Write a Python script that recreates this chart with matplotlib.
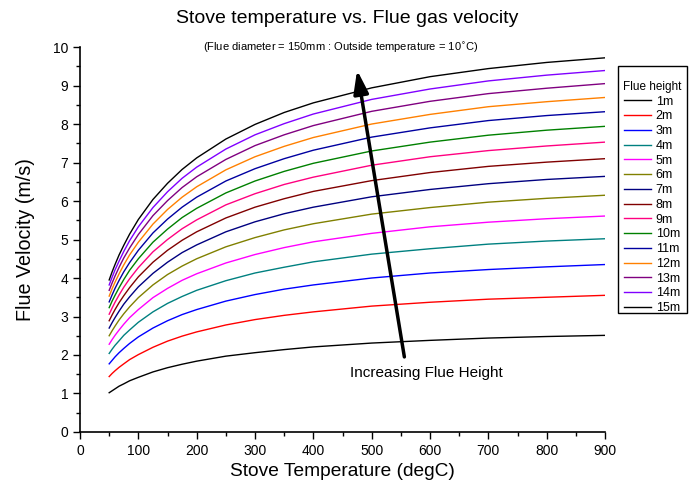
import numpy as np
import matplotlib
matplotlib.use("Agg")
import matplotlib.pyplot as plt
from matplotlib.ticker import MultipleLocator
from matplotlib.patches import Rectangle

plt.rcParams['font.family'] = ['Liberation Sans', 'DejaVu Sans']

# stove temperature (degC) at which each curve was read
temps = [50, 55, 60, 67, 75, 85, 100, 125, 150, 175, 200, 250, 300, 350, 400, 500, 600, 700, 800, 900]

# flue velocity (m/s), one list per flue height
v_1m = [1.02, 1.07, 1.12, 1.19, 1.25, 1.33, 1.42, 1.56, 1.67, 1.76, 1.84, 1.97, 2.06, 2.14, 2.21, 2.31, 2.38, 2.44, 2.48, 2.51]
v_2m = [1.44, 1.52, 1.59, 1.68, 1.77, 1.88, 2.01, 2.20, 2.36, 2.49, 2.60, 2.78, 2.92, 3.03, 3.12, 3.27, 3.37, 3.45, 3.50, 3.55]
v_3m = [1.77, 1.86, 1.95, 2.06, 2.17, 2.30, 2.47, 2.70, 2.89, 3.05, 3.18, 3.40, 3.57, 3.71, 3.82, 4.00, 4.13, 4.22, 4.29, 4.35]
v_4m = [2.04, 2.15, 2.25, 2.37, 2.51, 2.65, 2.85, 3.12, 3.34, 3.52, 3.68, 3.93, 4.13, 4.28, 4.42, 4.62, 4.76, 4.88, 4.96, 5.02]
v_5m = [2.28, 2.40, 2.51, 2.65, 2.80, 2.97, 3.18, 3.49, 3.73, 3.94, 4.11, 4.39, 4.61, 4.79, 4.94, 5.16, 5.33, 5.45, 5.54, 5.61]
v_6m = [2.50, 2.63, 2.75, 2.91, 3.07, 3.25, 3.49, 3.82, 4.09, 4.31, 4.50, 4.81, 5.05, 5.25, 5.41, 5.66, 5.83, 5.97, 6.07, 6.15]
v_7m = [2.70, 2.84, 2.97, 3.14, 3.32, 3.51, 3.77, 4.12, 4.41, 4.66, 4.86, 5.20, 5.46, 5.67, 5.84, 6.11, 6.30, 6.45, 6.56, 6.64]
v_8m = [2.89, 3.04, 3.18, 3.36, 3.54, 3.75, 4.03, 4.41, 4.72, 4.98, 5.20, 5.56, 5.84, 6.06, 6.25, 6.53, 6.74, 6.90, 7.01, 7.10]
v_9m = [3.06, 3.22, 3.37, 3.56, 3.76, 3.98, 4.27, 4.68, 5.00, 5.28, 5.51, 5.90, 6.19, 6.43, 6.62, 6.93, 7.15, 7.31, 7.43, 7.53]
v_10m = [3.23, 3.40, 3.55, 3.75, 3.96, 4.20, 4.50, 4.93, 5.27, 5.57, 5.81, 6.21, 6.52, 6.77, 6.98, 7.30, 7.53, 7.71, 7.84, 7.94]
v_11m = [3.38, 3.56, 3.73, 3.94, 4.16, 4.40, 4.72, 5.17, 5.53, 5.84, 6.10, 6.52, 6.84, 7.10, 7.32, 7.66, 7.90, 8.09, 8.22, 8.32]
v_12m = [3.53, 3.72, 3.89, 4.11, 4.34, 4.60, 4.93, 5.40, 5.78, 6.10, 6.37, 6.81, 7.15, 7.42, 7.65, 8.00, 8.25, 8.45, 8.58, 8.69]
v_13m = [3.68, 3.87, 4.05, 4.28, 4.52, 4.78, 5.13, 5.62, 6.01, 6.35, 6.63, 7.08, 7.44, 7.72, 7.96, 8.33, 8.59, 8.79, 8.93, 9.05]
v_14m = [3.82, 4.02, 4.21, 4.44, 4.69, 4.97, 5.33, 5.83, 6.24, 6.59, 6.88, 7.35, 7.72, 8.01, 8.26, 8.64, 8.91, 9.12, 9.27, 9.39]
v_15m = [3.95, 4.16, 4.35, 4.60, 4.85, 5.14, 5.52, 6.04, 6.46, 6.82, 7.12, 7.61, 7.99, 8.30, 8.55, 8.94, 9.23, 9.44, 9.60, 9.72]

labels = ["1m", "2m", "3m", "4m", "5m", "6m", "7m", "8m", "9m", "10m",
          "11m", "12m", "13m", "14m", "15m"]
series = [v_1m, v_2m, v_3m, v_4m, v_5m, v_6m, v_7m, v_8m, v_9m, v_10m,
          v_11m, v_12m, v_13m, v_14m, v_15m]
colors = ["#000000", "#FF0000", "#0000FF", "#008080", "#FF00FF", "#808000",
          "#000080", "#800000", "#FF0080", "#008000", "#0000A0", "#FF8000",
          "#800080", "#8000FF", "#000000"]

fig = plt.figure(figsize=(6.94, 4.90), dpi=100)
ax = fig.add_axes([0.1153, 0.1184, 0.7565, 0.7856])

for vals, lab, col in zip(series, labels, colors):
    ax.plot(temps, vals, color=col, lw=1.0, label=lab)

ax.set_xlim(0, 900)
ax.set_ylim(0, 10)
ax.xaxis.set_major_locator(MultipleLocator(100))
ax.xaxis.set_minor_locator(MultipleLocator(50))
ax.yaxis.set_major_locator(MultipleLocator(1))
ax.yaxis.set_minor_locator(MultipleLocator(0.5))
ax.tick_params(which="major", direction="out", length=5, width=1, labelsize=10)
ax.tick_params(which="minor", direction="out", length=3, width=1)
ax.spines["top"].set_visible(False)
ax.spines["right"].set_visible(False)
for s in ["left", "bottom"]:
    ax.spines[s].set_linewidth(1.2)

ax.set_xlabel("Stove Temperature (degC)", fontsize=13.8, labelpad=4)
ax.set_ylabel("Flue Velocity (m/s)", fontsize=14.2, labelpad=13)

fig.text(0.5, 0.963, "Stove temperature vs. Flue gas velocity", ha="center", va="center", fontsize=14)
fig.text(0.491, 0.902, r"(Flue diameter = 150mm : Outside temperature = 10$^{\circ}$C)",
         ha="center", va="center", fontsize=8)

ax.annotate("", xy=(475, 9.4), xytext=(556, 1.95),
            arrowprops=dict(arrowstyle="-|>,head_length=1.4,head_width=0.45",
                            color="black", lw=2.5, shrinkA=0, shrinkB=0))
ax.text(594, 1.52, "Increasing Flue Height", ha="center", va="center", fontsize=11)

# legend without its own frame, box drawn separately to get the spacing
leg = ax.legend(title="Flue height", loc="upper left", bbox_to_anchor=(0.8977, 0.8347),
                bbox_transform=fig.transFigure, fontsize=9, title_fontsize=8.5,
                frameon=False, handlelength=2.1, handletextpad=0.4, labelspacing=0.22,
                borderpad=0, borderaxespad=0)
fig.add_artist(Rectangle((618 / 694, 1 - 313 / 490), 69 / 694, 247 / 490,
                         transform=fig.transFigure, fill=False, ec="black", lw=1.0))

fig.savefig("out.png", dpi=100)
